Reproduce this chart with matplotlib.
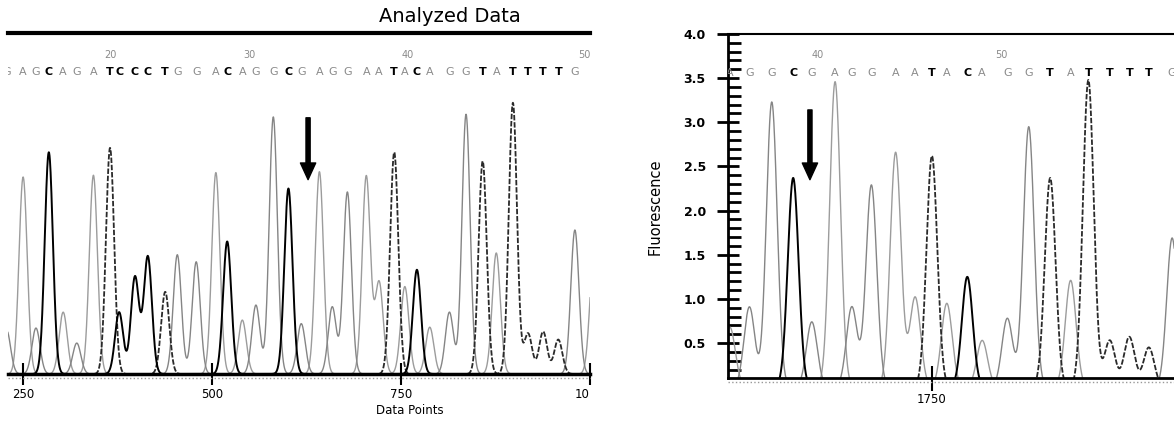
import numpy as np
import matplotlib
matplotlib.use('Agg')
import matplotlib.pyplot as plt
from matplotlib.ticker import MultipleLocator

# ---- left panel: peaks (data point, height) ----
left_A_pos = [250, 303, 343, 505, 540, 642, 704, 721, 755, 788, 876, 1005]
left_A_h = [2.23, 0.70, 2.25, 2.28, 0.61, 2.29, 2.24, 1.04, 0.99, 0.53, 1.37, 1.30]
left_G_pos = [228, 267, 321, 454, 479, 558, 581, 618, 659, 679, 814, 836, 980]
left_G_h = [0.50, 0.52, 0.35, 1.35, 1.27, 0.78, 2.91, 0.57, 0.76, 2.06, 0.70, 2.94, 1.63]
left_C_pos = [284, 377, 398, 415, 520, 601, 771]
left_C_h = [2.51, 0.70, 1.10, 1.33, 1.50, 2.10, 1.18]
left_T_pos = [365, 438, 741, 858, 898, 918, 938, 958]
left_T_h = [2.56, 0.93, 2.51, 2.41, 3.07, 0.46, 0.48, 0.39]

left_ticks = [250, 500, 750, 1000]
left_ticklabels = ['250', '500', '750', '10']
left_num_pos = [365, 550, 759, 993]
left_num_txt = ['20', '30', '40', '50']
left_arrow = (627, 2.90, 2.20)

# ---- right panel ----
right_A_pos = [1533, 1646, 1711, 1732, 1766, 1804, 1899]
right_A_h = [0.68, 3.46, 2.66, 1.02, 0.95, 0.53, 1.21]
right_G_pos = [1554, 1578, 1621, 1664, 1685, 1831, 1854, 2008]
right_G_h = [0.91, 3.23, 0.74, 0.91, 2.29, 0.78, 2.95, 1.69]
right_C_pos = [1601, 1788]
right_C_h = [2.37, 1.25]
right_T_pos = [1750, 1877, 1918, 1941, 1962, 1983]
right_T_h = [2.62, 2.37, 3.48, 0.53, 0.57, 0.45]

right_ticks = [1750]
right_yticks = [0.5, 1.0, 1.5, 2.0, 2.5, 3.0, 3.5, 4.0]
right_num_pos = [1627, 1825]
right_num_txt = ['40', '50']
right_arrow = (1619, 3.14, 2.35)

colors = {'A': '#9c9c9c', 'G': '#858585', 'C': 'black', 'T': '#2a2a2a'}
styles = {'A': '-', 'G': '-', 'C': '-', 'T': (0, (3, 1))}
widths = {'A': 1.0, 'G': 1.0, 'C': 1.4, 'T': 1.3}


def trace(x, pos, h, sigma):
    y = np.zeros_like(x)
    for p, v in zip(pos, h):
        y += v * np.exp(-0.5 * ((x - p) / sigma) ** 2)
    return y


def draw_panel(ax, peaks, xlim, sigma):
    x = np.linspace(xlim[0] - 30, xlim[1] + 30, 3000)
    for b in ['A', 'G', 'T', 'C']:
        pos, h = peaks[b]
        ax.plot(x, trace(x, pos, h, sigma), color=colors[b], ls=styles[b],
                lw=widths[b])
    ax.set_xlim(*xlim)
    # base calls above the traces
    calls = sorted((p, b) for b in peaks for p in peaks[b][0])
    for p, b in calls:
        if xlim[0] - 5 < p < xlim[1] + 5:
            dark = b in 'CT'
            ax.text(p, 0.886, b, transform=ax.get_xaxis_transform(),
                    ha='center', va='center', fontsize=8,
                    fontweight='bold' if dark else 'normal',
                    color='black' if dark else '#8a8a8a', clip_on=True)
    # dotted baseline under the axis
    ax.plot([0, 1], [-0.013, -0.013], transform=ax.transAxes, ls=':',
            color='#999999', lw=1.0, clip_on=False)


fig = plt.figure(figsize=(11.74, 4.22), dpi=100)

# left panel
axL = fig.add_axes([8 / 1174, 48 / 422, 582 / 1174, 341 / 422])
draw_panel(axL, {'A': (left_A_pos, left_A_h), 'G': (left_G_pos, left_G_h),
                 'C': (left_C_pos, left_C_h), 'T': (left_T_pos, left_T_h)},
           (230, 1000), 5.4)
axL.set_ylim(0, 3.86)
axL.set_yticks([])
for s in ['left', 'right']:
    axL.spines[s].set_visible(False)
axL.spines['top'].set_linewidth(3)
axL.spines['bottom'].set_linewidth(2.5)
axL.set_xticks(left_ticks)
axL.set_xticklabels(left_ticklabels, fontsize=8.5)
axL.get_xticklabels()[-1].set_ha('right')
axL.tick_params(axis='x', direction='inout', length=16, width=1.5, pad=2)
for p, t in zip(left_num_pos, left_num_txt):
    axL.text(p, 0.935, t, transform=axL.get_xaxis_transform(), ha='center',
             va='center', fontsize=7, color='#8a8a8a', clip_on=True)
axL.annotate('', xy=(left_arrow[0], left_arrow[2]),
             xytext=(left_arrow[0], left_arrow[1]),
             arrowprops=dict(facecolor='black', edgecolor='black', width=3,
                             headwidth=11, headlength=12, shrink=0))
fig.text(450 / 1174, 1 - 16 / 422, 'Analyzed Data', ha='center', va='center',
         fontsize=14)
fig.text(410 / 1174, 1 - 410 / 422, 'Data Points', ha='center', va='center',
         fontsize=8.5)

# right panel
axR = fig.add_axes([728 / 1174, 44 / 422, 446 / 1174, 344 / 422])
draw_panel(axR, {'A': (right_A_pos, right_A_h), 'G': (right_G_pos, right_G_h),
                 'C': (right_C_pos, right_C_h), 'T': (right_T_pos, right_T_h)},
           (1531, 2010), 5.8)
axR.set_ylim(0.104, 4.0)
axR.spines['right'].set_visible(False)
axR.spines['left'].set_linewidth(2)
axR.spines['bottom'].set_linewidth(2)
axR.spines['top'].set_linewidth(1.5)
axR.set_yticks(right_yticks)
axR.set_yticklabels([f'{v:.1f}' for v in right_yticks], fontsize=9,
                    fontweight='bold')
axR.yaxis.set_minor_locator(MultipleLocator(0.1))
axR.tick_params(axis='y', which='major', direction='inout', length=16,
                width=2, pad=8)
axR.tick_params(axis='y', which='minor', direction='in', length=9, width=2)
axR.set_xticks(right_ticks)
axR.set_xticklabels([str(v) for v in right_ticks], fontsize=8.5)
axR.tick_params(axis='x', direction='inout', length=18, width=1.5, pad=2)
for p, t in zip(right_num_pos, right_num_txt):
    axR.text(p, 0.939, t, transform=axR.get_xaxis_transform(), ha='center',
             va='center', fontsize=7, color='#8a8a8a', clip_on=True)
axR.annotate('', xy=(right_arrow[0], right_arrow[2]),
             xytext=(right_arrow[0], right_arrow[1]),
             arrowprops=dict(facecolor='black', edgecolor='black', width=3,
                             headwidth=11, headlength=12, shrink=0))
fig.text(655 / 1174, 1 - 207 / 422, 'Fluorescence', rotation=90, ha='center',
         va='center', fontsize=10.5)

fig.savefig('out.png', dpi=100)
